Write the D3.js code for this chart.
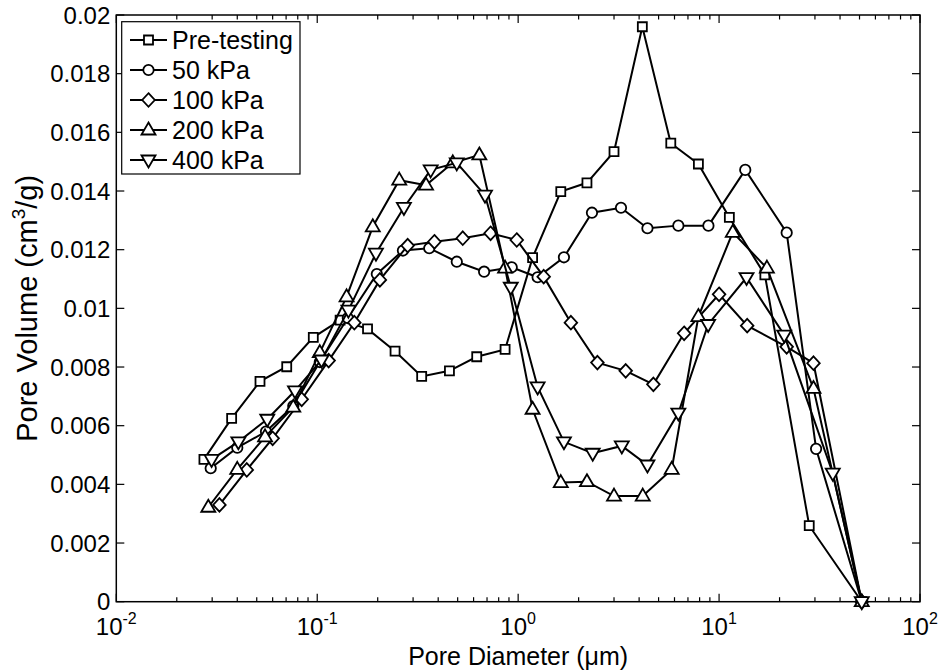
<!DOCTYPE html>
<html>
<head>
<meta charset="utf-8">
<script src="https://cdn.jsdelivr.net/npm/d3@7"></script>
<style>
  body { margin: 0; background: #fff; }
  text { font-family: "Liberation Sans", Arial, sans-serif; fill: #000; }
</style>
</head>
<body>
<svg id="chart" width="941" height="672"></svg>
<script>
// series values (x in um, y in cm3/g)
const preX = [0.0273, 0.0375, 0.0519, 0.0705, 0.0956, 0.130, 0.178, 0.244, 0.331, 0.455, 0.622, 0.861, 1.18, 1.63, 2.20, 3.00, 4.15, 5.75, 7.89, 11.25, 16.9, 28.1, 51.3];
const preY = [0.00485, 0.00625, 0.00751, 0.00801, 0.00901, 0.00960, 0.00930, 0.00854, 0.00768, 0.00787, 0.00835, 0.00860, 0.01173, 0.01398, 0.01428, 0.01534, 0.01960, 0.01563, 0.01492, 0.01310, 0.01114, 0.00259, 0];

const kpa50X = [0.0295, 0.0400, 0.0556, 0.0760, 0.103, 0.142, 0.198, 0.267, 0.361, 0.495, 0.677, 0.929, 1.25, 1.69, 2.33, 3.25, 4.40, 6.27, 8.85, 13.5, 21.7, 30.4, 51.3];
const kpa50Y = [0.00455, 0.00525, 0.00580, 0.00667, 0.00817, 0.00967, 0.01117, 0.01197, 0.01205, 0.01159, 0.01125, 0.01140, 0.01106, 0.01174, 0.01326, 0.01343, 0.01273, 0.01282, 0.01282, 0.01472, 0.01258, 0.00521, 0];

const kpa100X = [0.0326, 0.0446, 0.0600, 0.0837, 0.114, 0.153, 0.205, 0.282, 0.383, 0.530, 0.729, 0.984, 1.34, 1.83, 2.48, 3.43, 4.71, 6.70, 10.0, 13.8, 21.7, 29.5, 51.3];
const kpa100Y = [0.00330, 0.00449, 0.00557, 0.00690, 0.00822, 0.00951, 0.01097, 0.01214, 0.01227, 0.01239, 0.01256, 0.01233, 0.01108, 0.00951, 0.00815, 0.00787, 0.00741, 0.00915, 0.01048, 0.00941, 0.00869, 0.00813, 0];

const kpa200X = [0.0287, 0.0400, 0.0550, 0.0760, 0.103, 0.140, 0.189, 0.256, 0.348, 0.473, 0.641, 0.861, 1.18, 1.63, 2.20, 3.00, 4.17, 5.81, 7.89, 11.7, 17.3, 29.5, 51.3];
const kpa200Y = [0.00322, 0.00451, 0.00562, 0.00663, 0.00849, 0.01039, 0.01278, 0.01437, 0.01420, 0.01496, 0.01523, 0.01137, 0.00656, 0.00406, 0.00409, 0.00360, 0.00360, 0.00451, 0.00972, 0.01259, 0.01137, 0.00727, 0];

const kpa400X = [0.0298, 0.0405, 0.0564, 0.0775, 0.105, 0.143, 0.196, 0.270, 0.367, 0.495, 0.684, 0.919, 1.25, 1.69, 2.35, 3.28, 4.40, 6.27, 8.82, 13.7, 21.1, 36.8, 51.3];
const kpa400Y = [0.00485, 0.00545, 0.00622, 0.00719, 0.00824, 0.00994, 0.01188, 0.01344, 0.01472, 0.01496, 0.01386, 0.01072, 0.00732, 0.00545, 0.00506, 0.00531, 0.00466, 0.00643, 0.00945, 0.01105, 0.00909, 0.00438, 0];

const seriesNames = ["Pre-testing", "50 kPa", "100 kPa", "200 kPa", "400 kPa"];
const seriesMarkers = ["square", "circle", "diamond", "up", "down"];
const yTicks = [0, 0.002, 0.004, 0.006, 0.008, 0.01, 0.012, 0.014, 0.016, 0.018, 0.02];
const yTickLabels = ["0", "0.002", "0.004", "0.006", "0.008", "0.01", "0.012", "0.014", "0.016", "0.018", "0.02"];
const xDecades = [0.01, 0.1, 1, 10, 100];
const xExponents = ["-2", "-1", "0", "1", "2"];

const series = [
  { xs: preX, ys: preY },
  { xs: kpa50X, ys: kpa50Y },
  { xs: kpa100X, ys: kpa100Y },
  { xs: kpa200X, ys: kpa200Y },
  { xs: kpa400X, ys: kpa400Y }
];

const svg = d3.select("#chart");
const plotL = 116.3, plotR = 920, plotT = 15, plotB = 601.7;

const x = d3.scaleLog().domain([0.01, 100]).range([plotL, plotR]);
const y = d3.scaleLinear().domain([0, 0.02]).range([plotB, plotT]);

// marker shapes as path strings
function markerPath(kind) {
  if (kind === "square") return "M-4.5,-4.5H4.5V4.5H-4.5Z";
  if (kind === "circle") return "M5.2,0A5.2,5.2 0 1,1 -5.2,0A5.2,5.2 0 1,1 5.2,0Z";
  if (kind === "diamond") return "M0,-6.8L6.3,0L0,6.8L-6.3,0Z";
  if (kind === "up") return "M0,-7.5L7,4.5L-7,4.5Z";
  if (kind === "down") return "M0,7.5L7,-4.5L-7,-4.5Z";
}

// box
svg.append("rect")
  .attr("x", plotL).attr("y", plotT)
  .attr("width", plotR - plotL).attr("height", plotB - plotT)
  .attr("fill", "none").attr("stroke", "#000").attr("stroke-width", 1.5);

// minor x ticks
const minors = [];
xDecades.slice(0, 4).forEach(d => {
  for (let k = 2; k <= 9; k++) minors.push(d * k);
});

const tickG = svg.append("g").attr("stroke", "#000").attr("stroke-width", 1.2);
minors.forEach(v => {
  tickG.append("line").attr("x1", x(v)).attr("x2", x(v)).attr("y1", plotB).attr("y2", plotB - 4.5);
  tickG.append("line").attr("x1", x(v)).attr("x2", x(v)).attr("y1", plotT).attr("y2", plotT + 4.5);
});
xDecades.forEach(v => {
  tickG.append("line").attr("x1", x(v)).attr("x2", x(v)).attr("y1", plotB).attr("y2", plotB - 8);
  tickG.append("line").attr("x1", x(v)).attr("x2", x(v)).attr("y1", plotT).attr("y2", plotT + 8);
});
yTicks.forEach(v => {
  tickG.append("line").attr("x1", plotL).attr("x2", plotL + 8).attr("y1", y(v)).attr("y2", y(v));
  tickG.append("line").attr("x1", plotR).attr("x2", plotR - 8).attr("y1", y(v)).attr("y2", y(v));
});

// y tick labels
svg.append("g").selectAll("text")
  .data(yTicks)
  .join("text")
  .attr("x", plotL - 6)
  .attr("y", d => y(d))
  .attr("dy", "0.36em")
  .attr("text-anchor", "end")
  .style("font-size", "24px")
  .text((d, i) => yTickLabels[i]);

// x tick labels: 10 with superscript
xDecades.forEach((v, i) => {
  const t = svg.append("text")
    .attr("x", x(v))
    .attr("y", 635)
    .attr("text-anchor", "middle")
    .style("font-size", "24px");
  t.append("tspan").text("10");
  t.append("tspan").attr("dy", -11).style("font-size", "16px").text(xExponents[i]);
});

// axis titles
svg.append("text")
  .attr("x", (plotL + plotR) / 2)
  .attr("y", 665)
  .attr("text-anchor", "middle")
  .style("font-size", "25px")
  .text("Pore Diameter (\u03bcm)");

const yt = svg.append("text")
  .attr("transform", `translate(37,${(plotT + plotB) / 2}) rotate(-90)`)
  .attr("text-anchor", "middle")
  .style("font-size", "29px");
yt.append("tspan").text("Pore Volume (cm");
yt.append("tspan").attr("dy", -12).style("font-size", "19px").text("3");
yt.append("tspan").attr("dy", 12).text("/g)");

// lines + markers
const line = d3.line().x(d => x(d[0])).y(d => y(d[1]));

series.forEach((s, i) => {
  const pts = s.xs.map((v, j) => [v, s.ys[j]]);
  const g = svg.append("g");
  g.append("path")
    .attr("d", line(pts))
    .attr("fill", "none")
    .attr("stroke", "#000")
    .attr("stroke-width", 2);
  g.selectAll("path.m")
    .data(pts)
    .join("path")
    .attr("class", "m")
    .attr("transform", d => `translate(${x(d[0])},${y(d[1])})`)
    .attr("d", markerPath(seriesMarkers[i]))
    .attr("fill", "#fff")
    .attr("stroke", "#000")
    .attr("stroke-width", 1.8);
});

// legend
const lg = svg.append("g");
lg.append("rect")
  .attr("x", 121.7).attr("y", 21.7)
  .attr("width", 178.3).attr("height", 152.3)
  .attr("fill", "#fff").attr("stroke", "#000").attr("stroke-width", 1.2);

seriesNames.forEach((name, i) => {
  const cy = 40 + i * 30;
  lg.append("line")
    .attr("x1", 130).attr("x2", 167).attr("y1", cy).attr("y2", cy)
    .attr("stroke", "#000").attr("stroke-width", 2);
  lg.append("path")
    .attr("transform", `translate(148.5,${cy})`)
    .attr("d", markerPath(seriesMarkers[i]))
    .attr("fill", "#fff").attr("stroke", "#000").attr("stroke-width", 1.8);
  lg.append("text")
    .attr("x", 172).attr("y", cy)
    .attr("dy", "0.36em")
    .style("font-size", "25px")
    .text(name);
});
</script>
</body>
</html>
